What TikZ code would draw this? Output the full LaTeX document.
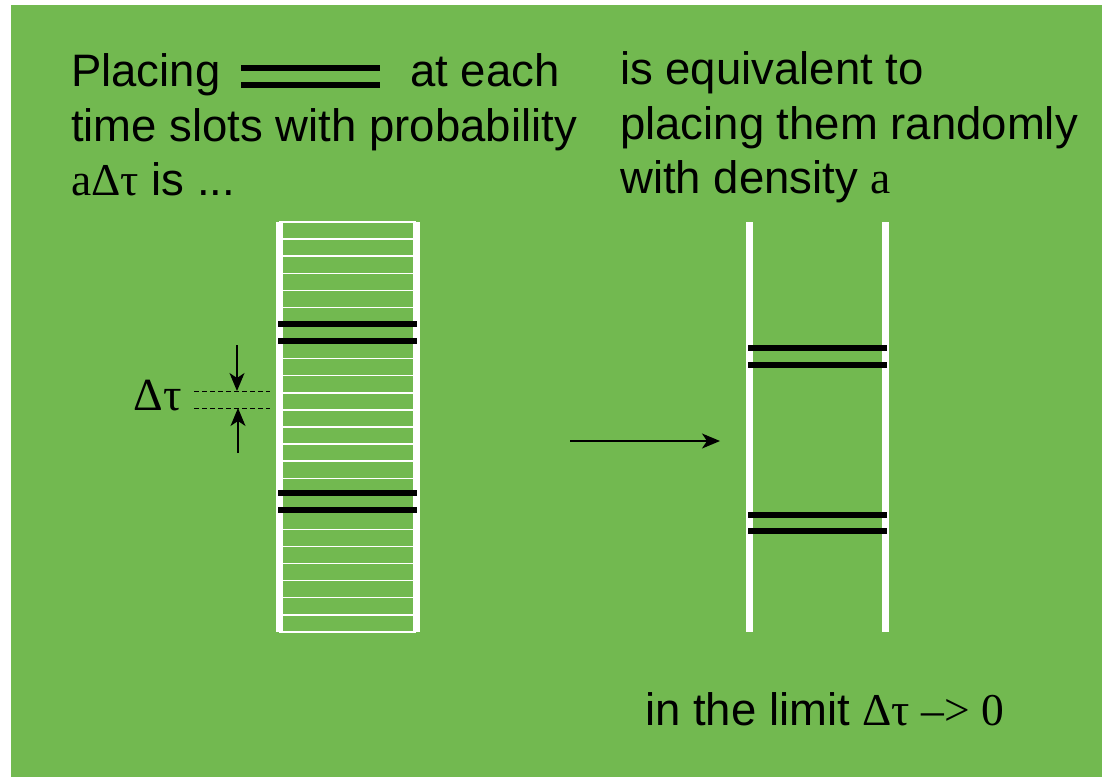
\documentclass[tikz,border=0pt]{standalone}
\usepackage{fontspec}
\setmainfont{Liberation Sans}
\newfontfamily\tms{Liberation Serif}
\usetikzlibrary{arrows.meta, positioning}
\definecolor{slide}{RGB}{114,185,80}

\begin{document}
\begin{tikzpicture}[x=1pt, y=-1pt,
    txt/.style={anchor=base west, inner sep=0pt, font=\fontsize{45.5}{54}\selectfont},
    rail/.style={white, line width=7pt},
    slot/.style={white, line width=1.4pt},
    pair/.style={line width=6.5pt},
    gap/.style={dashed, dash pattern=on 5pt off 3pt, line width=0.9pt},
    tip/.style={-{Stealth[length=18pt, width=15pt, inset=5pt]}, line width=1.4pt}]
    \useasboundingbox (0,0) rectangle (1102,777);
    \fill[slide] (11,5) rectangle (1102,777);

    % texts
    \node[txt] (place) at (71,86) {Placing};
    \node[txt] (each)  at (410,86) {at each};
    \node[txt] (slots) at (71,141) {time slots with probability};
    \node[txt] (prob)  at (71,195) {{\tms aΔτ} is ...};
    \node[txt] (equiv) at (620,84) {is equivalent to};
    \node[txt] (rand)  at (620,139) {placing them randomly};
    \node[txt] (dens)  at (620,193) {with density {\tms a}};
    \node[txt] (limit) at (645,725) {in the limit {\tms Δτ –> 0}};
    \draw[pair] (241,68) -- (380,68); \draw[pair] (241,85) -- (380,85);

    % discrete slots
    \foreach \k in {0,...,24}
      \draw[slot] (279,{222+17.08*\k}) -- (416,{222+17.08*\k});
    \draw[rail] (279,222) -- (279,632); \draw[rail] (416,222) -- (416,632);
    \foreach \y in {324,341,493,510}
      \draw[pair] (278,\y) -- (417,\y);

    % slot width
    \draw[gap] (194,391) -- (270,391); \draw[gap] (194,408) -- (270,408);
    \coordinate (upS) at (237,345); \coordinate (upE) at (237,391);
    \coordinate (dnS) at (238,453); \coordinate (dnE) at (238,408);
    \draw[tip] (upS) -- (upE); \draw[tip] (dnS) -- (dnE);
    \node[anchor=base east, inner sep=0pt, font=\tms\fontsize{46}{54}\selectfont] (dt) at (182,410) {Δτ};

    % continuum
    \draw[rail] (749,222) -- (749,632); \draw[rail] (885.5,222) -- (885.5,632);
    \foreach \y in {348,365,515,531}
      \draw[pair] (748,\y) -- (887,\y);

    \coordinate (arrS) at (570,441); \coordinate (arrE) at (720,441);
    \draw[tip] (arrS) -- (arrE);
\end{tikzpicture}
\end{document}
